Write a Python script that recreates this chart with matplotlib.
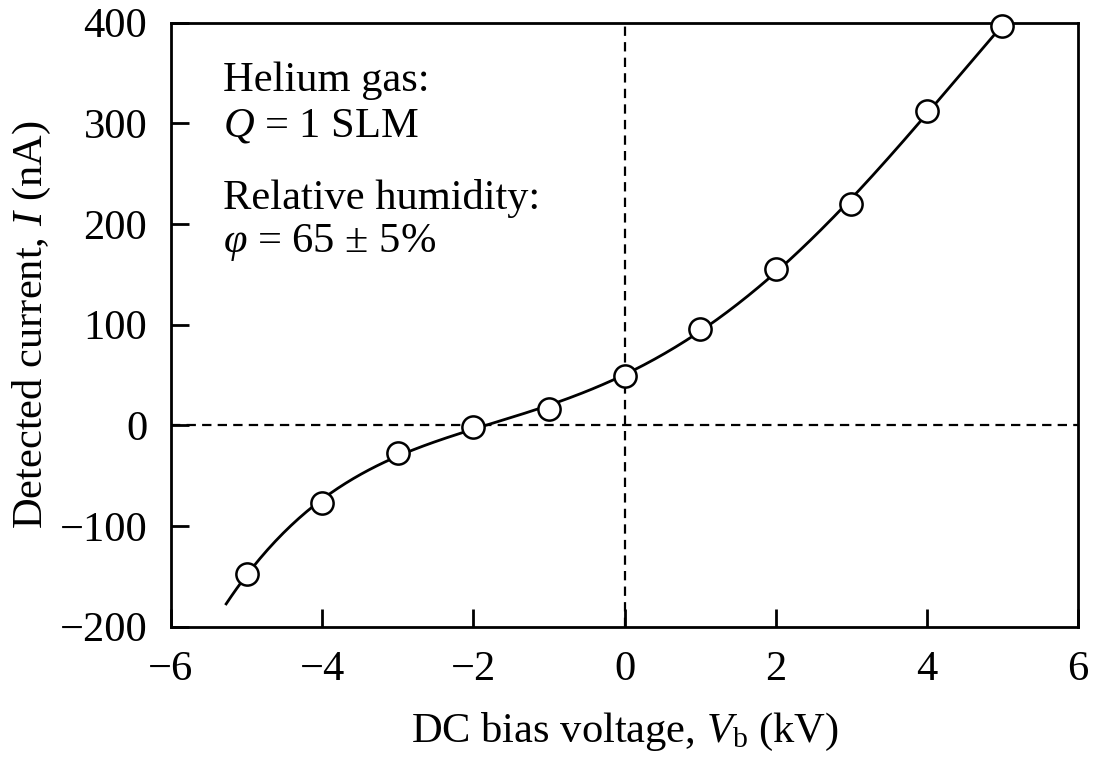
import matplotlib
matplotlib.use("Agg")
import matplotlib.pyplot as plt
import numpy as np

# measured points: DC bias voltage (kV) vs detected current (nA)
voltage = [-5, -4, -3, -2, -1, 0, 1, 2, 3, 4, 5]
current = [-148, -77, -27, -2, 16, 49, 96, 155, 220, 312, 397]

# range of the fitted line
fit_start = -5.27
fit_end = 5.0

plt.rcParams['font.family'] = ['Liberation Serif', 'DejaVu Serif']
plt.rcParams['mathtext.fontset'] = 'custom'
plt.rcParams['mathtext.rm'] = 'Liberation Serif'
plt.rcParams['mathtext.it'] = 'Liberation Serif:italic'
plt.rcParams['font.size'] = 30.6


def main():
    fig = plt.figure(figsize=(10.96, 7.62), dpi=100)
    ax = fig.add_axes([0.156, 0.1776, 0.8276, 0.7926])

    # polynomial fit through the measured points
    coef = np.polyfit(voltage, current, 5)
    xs = np.linspace(fit_start, fit_end, 300)
    ax.plot(xs, np.polyval(coef, xs), color='black', lw=2, zorder=2)

    ax.axhline(0, color='black', lw=1.6, dashes=(4.2, 2.8), zorder=1)
    ax.axvline(0, color='black', lw=1.6, dashes=(4.2, 2.8), zorder=1)

    ax.plot(voltage, current, 'o', ms=16, mfc='white', mec='black', mew=1.8,
            zorder=3, clip_on=False)

    ax.set_xlim(-6, 6)
    ax.set_ylim(-200, 400)
    ax.set_xticks([-6, -4, -2, 0, 2, 4, 6])
    ax.set_yticks([-200, -100, 0, 100, 200, 300, 400])
    ax.tick_params(direction='in', length=13, width=2, top=False, right=False)
    ax.tick_params(axis='y', pad=17)
    ax.tick_params(axis='x', pad=17)
    for s in ax.spines.values():
        s.set_linewidth(2)

    ax.set_xlabel(r'DC bias voltage, $V_{\mathrm{b}}$ (kV)', labelpad=16)
    ax.set_ylabel(r'Detected current, $I$ (nA)', labelpad=5)

    ax.text(0.057, 0.887, 'Helium gas:', transform=ax.transAxes, va='baseline')
    ax.text(0.057, 0.811, r'$Q$ = 1 SLM', transform=ax.transAxes, va='baseline')
    ax.text(0.057, 0.692, 'Relative humidity:', transform=ax.transAxes, va='baseline')
    ax.text(0.057, 0.621, r'$\varphi$ = 65 $\pm$ 5%', transform=ax.transAxes,
            va='baseline')

    fig.savefig('out.png', dpi=100)


if __name__ == "__main__":
    main()
